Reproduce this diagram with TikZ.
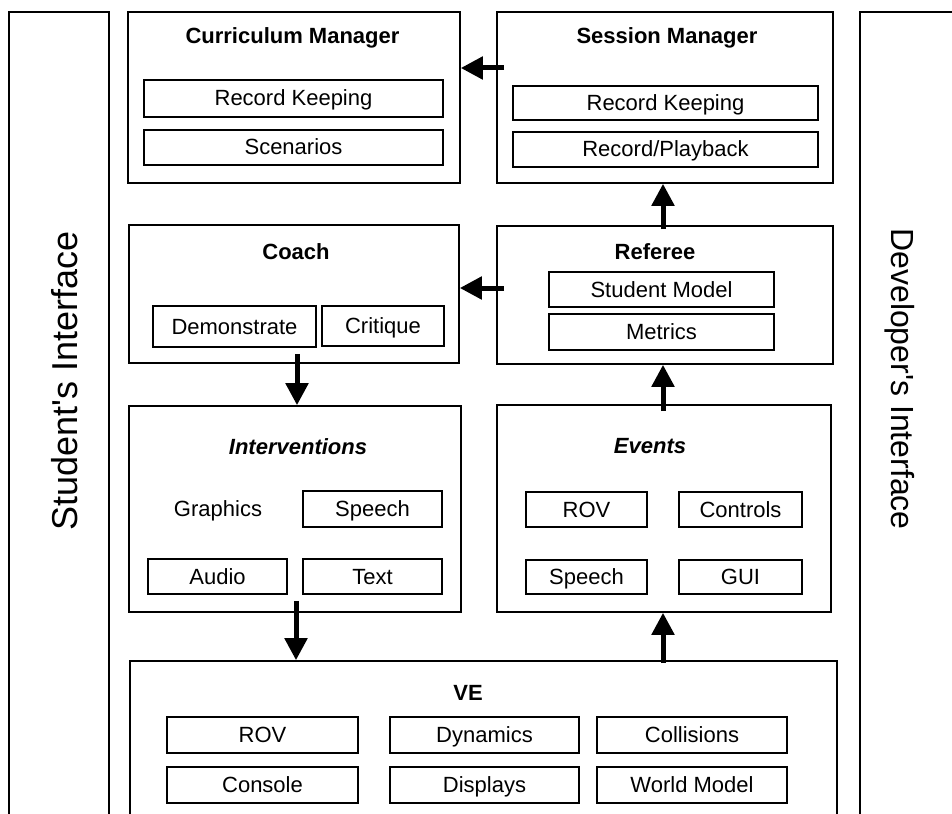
\documentclass[tikz,border=0pt]{standalone}
\usepackage{fontspec}
\setmainfont{Liberation Sans}[Ligatures=TeXOff]
\usetikzlibrary{arrows.meta}

\tikzset{
  panel/.style={draw, line width=1.6pt, inner sep=0pt},
  part/.style={draw, line width=1.4pt, inner sep=0pt, minimum height=35pt,
    font=\fontsize{22}{24}\selectfont, text height=19.6pt, text depth=4.6pt},
  heading/.style={anchor=base, font=\fontsize{22}{24}\selectfont\bfseries},
  slanted/.style={font=\fontsize{22}{24}\selectfont\bfseries\itshape},
  sidetext/.style={font=\fontsize{36}{40}\selectfont},
  flow/.style={line width=5pt, -{Triangle[length=22pt,width=22pt]}},
}

\begin{document}
\begin{tikzpicture}[x=1pt, y=-1pt]
  \useasboundingbox (0,0) rectangle (952,813);
  \clip (0,0) rectangle (952,813);
  % side panels, open past the bottom edge
  \node[panel, minimum width=100pt, minimum height=818pt] (stud) at (59,421) {};
  \node[panel, minimum width=100pt, minimum height=818pt] (dev) at (910,421) {};
  \node[sidetext, rotate=90] (studtext) at (65,381) {Student's Interface};
  \node[sidetext, font=\fontsize{32}{36}\selectfont, rotate=-90] (devtext) at (900,379) {Developer's Interface};

  % top row
  \node[panel, minimum width=332pt, minimum height=171pt] (curr) at (294,97.5) {};
  \node[heading] (currtitle) at (292.5,44) {Curriculum Manager};
  \node[part, minimum width=299pt, minimum height=37pt] (currrec) at (293.5,98.5) {Record Keeping};
  \node[part, minimum width=299pt] (currscen) at (293.5,147.5) {Scenarios};

  \node[panel, minimum width=336pt, minimum height=171pt] (sess) at (665,97.5) {};
  \node[heading] (sesstitle) at (667,44) {Session Manager};
  \node[part, minimum width=305pt, minimum height=34pt] (sessrec) at (665.5,103) {Record Keeping};
  \node[part, minimum width=305pt] (sessplay) at (665.5,149.5) {Record/Playback};

  % middle row
  \node[panel, minimum width=330pt, minimum height=138pt] (coach) at (294,294) {};
  \node[heading] (coachtitle) at (296,259) {Coach};
  \node[part, minimum width=163pt, minimum height=41pt] (demo) at (234.5,326.5) {Demonstrate};
  \node[part, minimum width=122pt, minimum height=40pt] (crit) at (383,326) {Critique};

  \node[panel, minimum width=336pt, minimum height=138pt] (ref) at (665,295) {};
  \node[heading] (reftitle) at (655,259) {Referee};
  \node[part, minimum width=225pt] (stmodel) at (661.5,289.5) {Student Model};
  \node[part, minimum width=225pt, minimum height=36pt] (metrics) at (661.5,332) {Metrics};

  % third row
  \node[panel, minimum width=332pt, minimum height=206pt] (interv) at (295,509) {};
  \node[heading, slanted] (intervtitle) at (298,454) {Interventions};
  \node[part, draw=none] (graphics) at (218,509) {Graphics};
  \node[part, minimum width=139pt, minimum height=36pt] (ispeech) at (372.5,509) {Speech};
  \node[part, minimum width=139pt] (audio) at (217.5,576.5) {Audio};
  \node[part, minimum width=139pt] (itext) at (372.5,576.5) {Text};

  \node[panel, minimum width=334pt, minimum height=207pt] (events) at (664,508.5) {};
  \node[heading, slanted] (eventstitle) at (650,453) {Events};
  \node[part, minimum width=121pt] (erov) at (586.5,509.5) {ROV};
  \node[part, minimum width=123pt] (controls) at (740.5,509.5) {Controls};
  \node[part, minimum width=121pt, minimum height=34pt] (espeech) at (586.5,577) {Speech};
  \node[part, minimum width=123pt, minimum height=34pt] (gui) at (740.5,577) {GUI};

  % VE, runs past the bottom edge
  \node[panel, minimum width=707pt, minimum height=169pt] (ve) at (483.5,745.5) {};
  \node[heading] (vetitle) at (468,700) {VE};
  \node[part, minimum width=191pt, minimum height=36pt] (vrov) at (262.5,735) {ROV};
  \node[part, minimum width=189pt, minimum height=36pt] (dyn) at (484.5,735) {Dynamics};
  \node[part, minimum width=190pt, minimum height=36pt] (coll) at (692,735) {Collisions};
  \node[part, minimum width=191pt, minimum height=36pt] (console) at (262.5,785) {Console};
  \node[part, minimum width=189pt, minimum height=36pt] (displays) at (484.5,785) {Displays};
  \node[part, minimum width=190pt, minimum height=36pt] (world) at (692,785) {World Model};

  % data flow
  \draw[flow, shorten <=-8pt] (sess.west |- 0,68) -- (curr.east |- 0,68);
  \draw[flow, shorten <=-4pt] (ref.north -| 663,0) -- (sess.south -| 663,0);
  \draw[flow, shorten <=-8pt] (ref.west |- 0,288) -- (coach.east |- 0,288);
  \draw[flow, shorten <=-10pt] (coach.south -| 297,0) -- (interv.north -| 297,0);
  \draw[flow, shorten <=-7pt] (events.north -| 663,0) -- (ref.south -| 663,0);
  \draw[flow, shorten <=-12pt] (interv.south -| 296,0) -- (ve.north -| 296,0);
  \draw[flow, shorten <=-3pt] (ve.north -| 663,0) -- (events.south -| 663,0);
\end{tikzpicture}
\end{document}
